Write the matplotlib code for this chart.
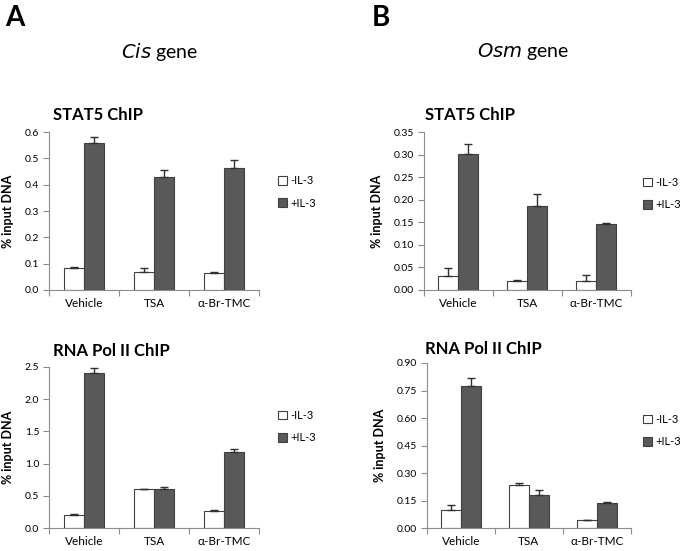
import matplotlib
matplotlib.use("Agg")
import matplotlib.pyplot as plt
from matplotlib.patches import Patch
import numpy as np

plt.rcParams["font.family"] = ["Lato", "DejaVu Sans"]

CATEGORIES = ["Vehicle", "TSA", "α-Br-TMC"]
SERIES = ["-IL-3", "+IL-3"]

# Cis gene (A)
CIS_STAT5_NEG = [0.085, 0.070, 0.065]
CIS_STAT5_NEG_ERR = [0.004, 0.015, 0.002]
CIS_STAT5_POS = [0.560, 0.428, 0.465]
CIS_STAT5_POS_ERR = [0.020, 0.027, 0.028]

CIS_POL2_NEG = [0.20, 0.60, 0.26]
CIS_POL2_NEG_ERR = [0.01, 0.01, 0.02]
CIS_POL2_POS = [2.40, 0.60, 1.18]
CIS_POL2_POS_ERR = [0.08, 0.04, 0.05]

# Osm gene (B)
OSM_STAT5_NEG = [0.032, 0.021, 0.020]
OSM_STAT5_NEG_ERR = [0.017, 0.001, 0.013]
OSM_STAT5_POS = [0.302, 0.186, 0.146]
OSM_STAT5_POS_ERR = [0.022, 0.027, 0.003]

OSM_POL2_NEG = [0.097, 0.233, 0.042]
OSM_POL2_NEG_ERR = [0.028, 0.010, 0.002]
OSM_POL2_POS = [0.773, 0.178, 0.137]
OSM_POL2_POS_ERR = [0.045, 0.030, 0.007]

DARK = "#595959"
EDGE = "#404040"
AXIS = "#8c8c8c"


def bar_panel(ax, neg, neg_err, pos, pos_err, ymax, step, fmt, leg_x, leg_y):
    x = np.arange(len(CATEGORIES)) + 0.5
    w = 0.29
    ekw = dict(ecolor="#303030", elinewidth=1.0, capsize=3, capthick=1.0)
    ax.bar(x - w / 2, neg, w, color="white", edgecolor=EDGE, lw=0.8,
           yerr=[np.zeros(3), neg_err], error_kw=ekw, zorder=2)
    ax.bar(x + w / 2, pos, w, color=DARK, edgecolor=EDGE, lw=0.8,
           yerr=[np.zeros(3), pos_err], error_kw=ekw, zorder=2)
    ax.set_xlim(0, 3)
    ax.set_ylim(0, ymax)
    ax.set_yticks(np.arange(0, ymax + step / 2, step))
    ax.yaxis.set_major_formatter(plt.FormatStrFormatter(fmt))
    ax.set_xticks([0, 1, 2, 3])
    ax.set_xticklabels([])
    ax.set_xticks(x, minor=True)
    ax.set_xticklabels(CATEGORIES, minor=True, fontsize=8.5)
    ax.tick_params(axis="x", which="minor", length=0, pad=6)
    ax.tick_params(axis="x", which="major", length=4, color=AXIS, direction="out")
    ax.tick_params(axis="y", length=4, color=AXIS, labelsize=7.5, pad=3)
    for s in ["top", "right"]:
        ax.spines[s].set_visible(False)
    for s in ["left", "bottom"]:
        ax.spines[s].set_color(AXIS)
    ax.set_ylabel("% input DNA", fontsize=9, fontweight="bold", labelpad=8)
    handles = [Patch(facecolor="white", edgecolor=EDGE, lw=0.8),
               Patch(facecolor=DARK, edgecolor=EDGE, lw=0.8)]
    ax.legend(handles, SERIES, loc="center left", bbox_to_anchor=(leg_x, leg_y),
              frameon=False, fontsize=8, handlelength=0.8, handleheight=0.8,
              handletextpad=0.3, labelspacing=1.0, borderpad=0, borderaxespad=0)


fig = plt.figure(figsize=(6.86, 5.51), dpi=100)

ax1 = fig.add_axes([0.0714, 0.4737, 0.3062, 0.2867])
bar_panel(ax1, CIS_STAT5_NEG, CIS_STAT5_NEG_ERR, CIS_STAT5_POS, CIS_STAT5_POS_ERR,
          0.6, 0.1, "%.1f", 1.09, 0.62)
ax2 = fig.add_axes([0.618, 0.4737, 0.3018, 0.2867])
bar_panel(ax2, OSM_STAT5_NEG, OSM_STAT5_NEG_ERR, OSM_STAT5_POS, OSM_STAT5_POS_ERR,
          0.35, 0.05, "%.2f", 1.06, 0.61)
ax3 = fig.add_axes([0.0714, 0.0417, 0.3062, 0.2923])
bar_panel(ax3, CIS_POL2_NEG, CIS_POL2_NEG_ERR, CIS_POL2_POS, CIS_POL2_POS_ERR,
          2.5, 0.5, "%.1f", 1.09, 0.63)
ax4 = fig.add_axes([0.6224, 0.0417, 0.2974, 0.2995])
bar_panel(ax4, OSM_POL2_NEG, OSM_POL2_NEG_ERR, OSM_POL2_POS, OSM_POL2_POS_ERR,
          0.9, 0.15, "%.2f", 1.06, 0.59)

H = 551.0
W = 686.0
fig.text(5 / W, 1 - 18 / H, "A", fontsize=20, fontweight="bold", va="center")
fig.text(372 / W, 1 - 18 / H, "B", fontsize=20, fontweight="bold", va="center")
fig.text(160 / W, 1 - 52 / H, r"$\it{Cis}$ gene", fontsize=14, ha="center", va="center")
fig.text(523 / W, 1 - 52 / H, r"$\it{Osm}$ gene", fontsize=14, ha="center", va="center")

fig.text(53 / W, 1 - 115 / H, "STAT5 ChIP", fontsize=12, fontweight="bold", va="center")
fig.text(425 / W, 1 - 115 / H, "STAT5 ChIP", fontsize=12, fontweight="bold", va="center")
fig.text(53 / W, 1 - 351 / H, "RNA Pol II ChIP", fontsize=12, fontweight="bold", va="center")
fig.text(425 / W, 1 - 349 / H, "RNA Pol II ChIP", fontsize=12, fontweight="bold", va="center")

fig.savefig("out.png", dpi=100)
